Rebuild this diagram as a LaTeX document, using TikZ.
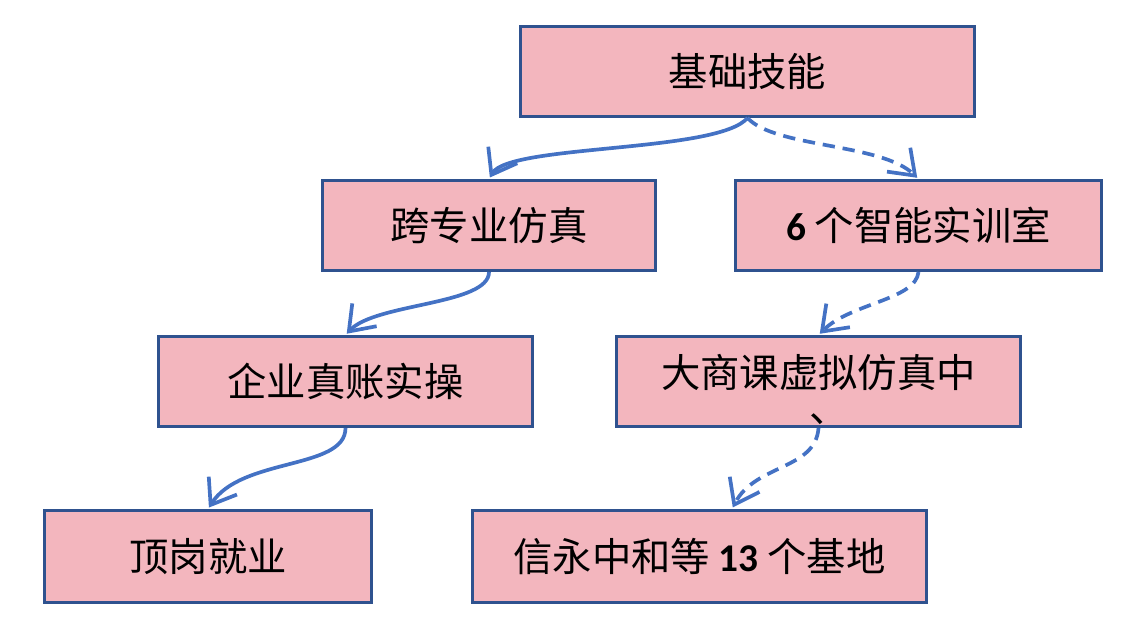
\documentclass[tikz,border=0pt]{standalone}
\usepackage{fontspec}
\setmainfont{Noto Sans CJK SC}
\newfontfamily\numfont{Carlito}
\usetikzlibrary{arrows.meta}

\definecolor{boxpink}{RGB}{243,182,190}
\definecolor{boxblue}{RGB}{47,82,143}
\definecolor{linkblue}{RGB}{68,114,196}

\tikzset{
  box/.style={draw=boxblue, fill=boxpink, line width=1.7pt, inner sep=0pt,
    minimum height=1.8cm, font=\fontsize{22.4}{27}\selectfont},
  link/.style={draw=linkblue, line width=2.1pt,
    -{Straight Barb[length=13pt,width=19pt]}, shorten >=1pt},
  dashlink/.style={link, dash pattern=on 7pt off 4.5pt}
}
\newcommand{\num}[1]{{\numfont\bfseries #1}}

\begin{document}
\begin{tikzpicture}[x=0.02cm, y=-0.02cm]
			\useasboundingbox (0,0) rectangle (1138,629);
			
			% Define boxes
			\node[box, minimum width=9.08cm] (basic) at (747.5,71.5) {基础技能};
			\node[box, minimum width=6.66cm] (cross) at (489,225.5) {跨专业仿真};
			\node[box, minimum width=7.32cm] (smart) at (918.5,225.5) {\num{6} 个智能实训室};
			\node[box, minimum width=7.48cm] (real) at (345.5,381.5) {企业真账实操};
			\node[box, minimum width=8.08cm, text height=19.7pt, text depth=12.7pt] (vsim) at (818.5,381.5)
				{\begin{tabular}[t]{@{}c@{}}大商课虚拟仿真中\\[-7pt]\hspace{12pt}、\end{tabular}};
			\node[box, minimum width=6.54cm, minimum height=1.84cm] (intern) at (208,556.5) {顶岗就业};
			\node[box, minimum width=9.08cm, minimum height=1.84cm] (base) at (699.5,556.5) {信永中和等 \num{13} 个基地};
			
			% Draw links
			\draw[link] (basic.south) .. controls +(-30,35) and +(20,-35) .. (cross.north);
			\draw[dashlink] (basic.south) .. controls +(28,30) and +(-37,-36) .. (smart.north);
			\draw[link] (cross.south) .. controls +(0,33) and +(30,-32) .. (real.north);
			\draw[dashlink] (smart.south) .. controls +(-3,28) and +(32,-32) .. (vsim.north);
			\draw[link] (real.south) .. controls +(0,42) and +(33,-52) .. (intern.north);
			\draw[dashlink] (vsim.south) .. controls +(-3,42) and +(23,-45) .. ([xshift=0.65cm]base.north);
		\end{tikzpicture}
\end{document}
